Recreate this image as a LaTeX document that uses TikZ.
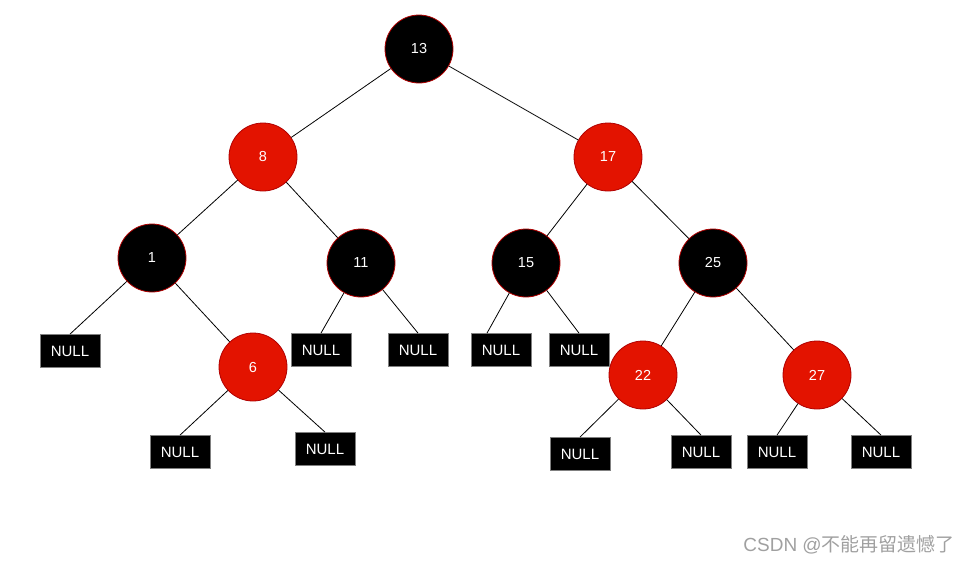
\documentclass[tikz,border=0pt]{standalone}
\usepackage{fontspec}
\setmainfont{Liberation Sans}
\newfontfamily\cjk{Noto Sans CJK SC}
\definecolor{rbred}{HTML}{E31300}
\definecolor{rbedge}{HTML}{B00000}
\definecolor{wmgray}{HTML}{A0A0A0}
\definecolor{boxedge}{HTML}{808080}
\begin{document}
\begin{tikzpicture}[x=1pt,y=-1pt,
  blk/.style={circle,fill=black,draw=rbedge,line width=0.8pt,minimum size=68pt,inner sep=0pt,text=white,font=\fontsize{14.5}{16}\selectfont},
  red/.style={circle,fill=rbred,draw=rbedge,line width=0.8pt,minimum size=68pt,inner sep=0pt,text=white,font=\fontsize{14.5}{16}\selectfont},
  nil/.style={rectangle,fill=black,draw=boxedge,line width=0.8pt,minimum width=60pt,minimum height=33pt,inner sep=0pt,text=white,font=\fontsize{15}{16}\selectfont},
  edge/.style={draw=black,line width=0.8pt}]
\useasboundingbox (0,0) rectangle (968,563);
\node[blk] (n13) at (419,49) {13};
\node[red] (n8) at (263,157) {8};
\node[red] (n17) at (608,157) {17};
\node[blk] (n1) at (152,258) {1};
\node[blk] (n11) at (361,263) {11};
\node[blk] (n15) at (526,263) {15};
\node[blk] (n25) at (713,263) {25};
\node[red] (n6) at (253,367) {6};
\node[red] (n22) at (643,375) {22};
\node[red] (n27) at (817,375) {27};
\node[nil] (a1) at (70,351) {NULL};
\node[nil] (a2) at (321,350) {NULL};
\node[nil] (a3) at (418,350) {NULL};
\node[nil] (a4) at (501,350) {NULL};
\node[nil] (a5) at (579,350) {NULL};
\node[nil] (b1) at (180,452) {NULL};
\node[nil] (b2) at (325,449) {NULL};
\node[nil] (b3) at (580,454) {NULL};
\node[nil] (b4) at (701,452) {NULL};
\node[nil] (b5) at (777,452) {NULL};
\node[nil] (b6) at (881,452) {NULL};
\draw[edge] (n13) -- (n8);
\draw[edge] (n13) -- (n17);
\draw[edge] (n8) -- (n1);
\draw[edge] (n8) -- (n11);
\draw[edge] (n17) -- (n15);
\draw[edge] (n17) -- (n25);
\draw[edge] (n1) -- (a1.north);
\draw[edge] (n1) -- (n6);
\draw[edge] (n11) -- (a2.north);
\draw[edge] (n11) -- (a3.north);
\draw[edge] (n15) -- ([xshift=-14pt]a4.north);
\draw[edge] (n15) -- (a5.north);
\draw[edge] (n25) -- (n22);
\draw[edge] (n25) -- (n27);
\draw[edge] (n6) -- (b1.north);
\draw[edge] (n6) -- (b2.north);
\draw[edge] (n22) -- (b3.north);
\draw[edge] (n22) -- (b4.north);
\draw[edge] (n27) -- (b5.north);
\draw[edge] (n27) -- (b6.north);
\node[anchor=east,text=wmgray,font=\fontsize{19}{22}\selectfont,inner sep=0pt] (wm) at (955,545) {CSDN @{\cjk 不能再留遗憾了}};
\end{tikzpicture}
\end{document}
